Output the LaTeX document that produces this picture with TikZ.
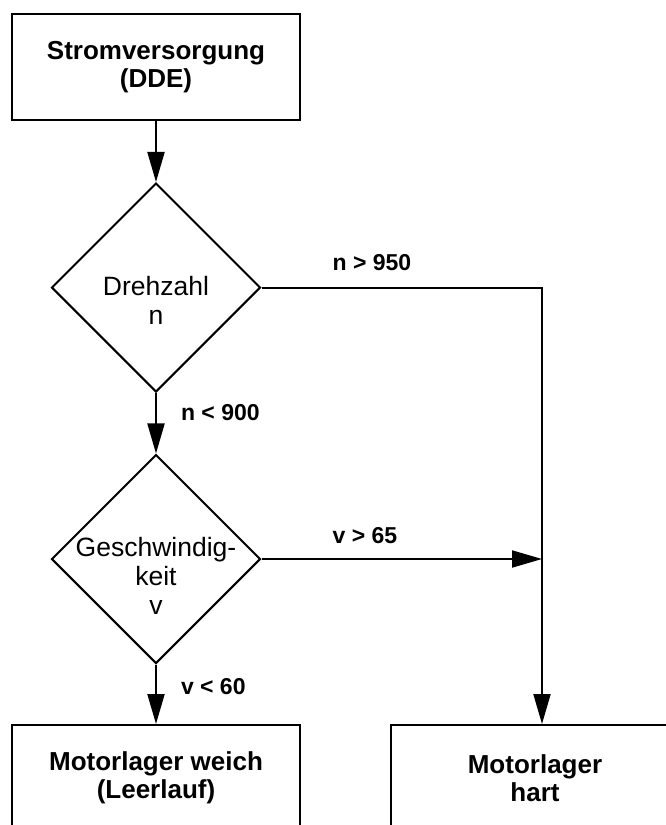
\documentclass[tikz,border=0pt]{standalone}
\usepackage{fontspec}
\setmainfont{Liberation Sans}
\usepackage{tikz}
\usetikzlibrary{arrows.meta, shapes.geometric, calc, positioning}
\newcommand{\boxFont}{\fontsize{26}{28}\selectfont\bfseries}
\newcommand{\decFont}{\fontsize{26.5}{29}\selectfont}
\newcommand{\condFont}{\fontsize{23}{26}\selectfont\bfseries}
\tikzset{
    stepBox/.style={rectangle, draw, line width=2pt, minimum width=288pt, minimum height=106pt, inner sep=0pt, align=center, font=\boxFont},
    decision/.style={diamond, draw, line width=2pt, minimum width=209pt, minimum height=209pt, inner sep=0pt},
    decisionText/.style={align=center, inner sep=0pt, font=\decFont},
    flowEdge/.style={-{Triangle[length=30pt, width=17pt]}, line width=2pt},
    condLabel/.style={inner sep=0pt, font=\condFont},
}
% vertical branch with its condition on the right
\newcommand{\drawCondDown}[5][9pt]{
    \draw[flowEdge] (#2) -- node[condLabel, anchor=west, xshift=24pt, yshift=#1] (#4) {#5} (#3);
}

\begin{document}
\begin{tikzpicture}[x=1pt, y=-1pt]
    \useasboundingbox (0, 0) rectangle (666, 825);
    \clip (0, 0) rectangle (666, 825);

    % boxes and decisions
    \node[stepBox] (power) at (156, 67) {Stromversorgung\\(DDE)};
    \node[decision] (speed) at (156, 287.5) {};
    \node[decisionText] (speedText) at (156, 300) {Drehzahl\\n};
    \node[decision] (velo) at (156, 559) {};
    \node[decisionText] (veloText) at (156, 575.5) {Geschwindig-\\keit\\v};
    \node[stepBox] (soft) at (156, 778) {Motorlager weich\\(Leerlauf)};
    \node[stepBox] (hard) at (535, 778) {Motorlager\\hart};

    % connectors
    \coordinate (corner) at (542, 287.5);
    \coordinate (join) at (corner |- velo.east);

    \draw[flowEdge] (power) -- (speed);
    \drawCondDown[10.5pt]{speed}{velo}{condNLow}{n < 900}
    \drawCondDown[7.5pt]{velo}{soft}{condVLow}{v < 60}
    \draw[flowEdge] (speed.east) -- node[condLabel, pos=0.25, anchor=base west, yshift=17pt] (condNHigh) {n > 950} (corner) -- (corner |- hard.north);
    \draw[flowEdge] (velo.east) -- node[condLabel, pos=0.25, anchor=base west, yshift=16pt] (condVHigh) {v > 65} (join);

\end{tikzpicture}
\end{document}
